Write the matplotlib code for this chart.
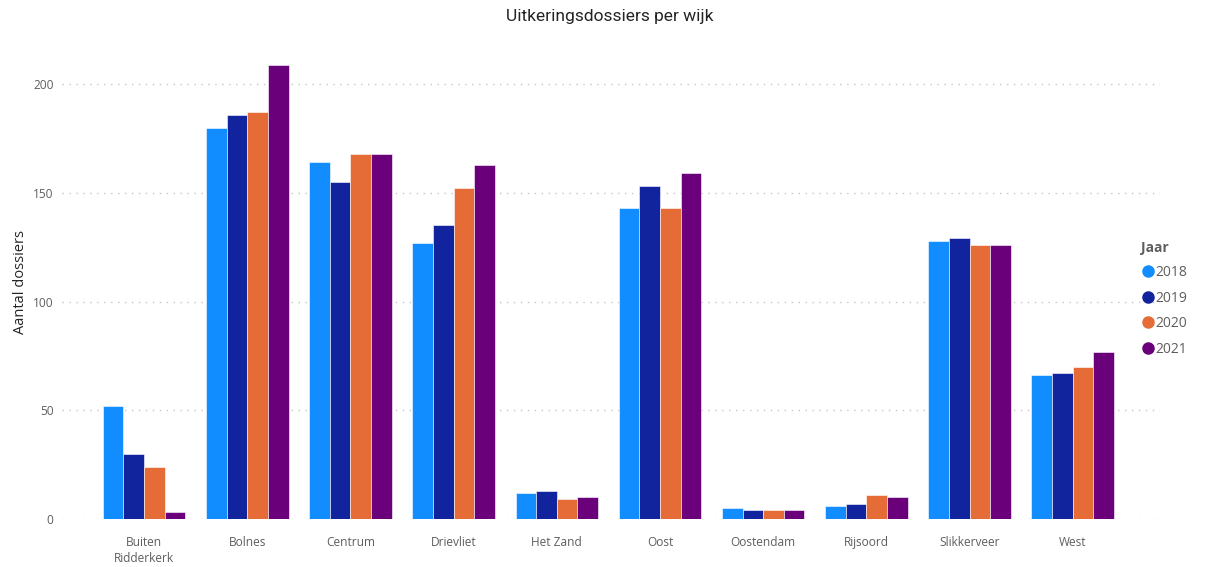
import numpy as np
import matplotlib.pyplot as plt
from matplotlib.lines import Line2D

# Data
wijken = ["Buiten\nRidderkerk", "Bolnes", "Centrum", "Drievliet", "Het Zand",
          "Oost", "Oostendam", "Rijsoord", "Slikkerveer", "West"]
jaren = ["2018", "2019", "2020", "2021"]
v2018 = [52, 180, 164, 127, 12, 143, 5, 6, 128, 66]
v2019 = [30, 186, 155, 135, 13, 153, 4, 7, 129, 67]
v2020 = [24, 187, 168, 152, 9, 143, 4, 11, 126, 70]
v2021 = [3, 209, 168, 163, 10, 159, 4, 10, 126, 77]
yticks = [0, 50, 100, 150, 200]

colors = ["#118DFF", "#12239E", "#E66C37", "#6B007B"]
series = [v2018, v2019, v2020, v2021]

plt.rcParams['font.family'] = ['Open Sans', 'DejaVu Sans']

fig = plt.figure(figsize=(12.07, 5.67), dpi=100)
ax = fig.add_axes([0.0514, 0.0847, 0.9096, 0.836])

x = np.arange(len(wijken))
w = 0.2
for i, vals in enumerate(series):
    ax.bar(x + (i - 1.5) * w, vals, width=w, color=colors[i],
           edgecolor='white', linewidth=0.4, zorder=3)

ax.set_xlim(-0.795, 9.845)
ax.set_ylim(0, 218)
ax.set_yticks(yticks)
ax.set_xticks(x)
ax.set_xticklabels(wijken, fontsize=8.6, color='#605E5C', linespacing=1.35)
ax.tick_params(axis='y', labelsize=8.6, labelcolor='#605E5C', length=0, pad=6)
ax.tick_params(axis='x', length=0, pad=12)
ax.grid(axis='y', linestyle=(0, (1, 4)), color='#C8C6C4', linewidth=1, zorder=0)
for s in ax.spines.values():
    s.set_visible(False)

ax.set_ylabel("Aantal dossiers", fontsize=10.5, color='#252423')
ax.yaxis.set_label_coords(-0.031, 0.5)

fig.suptitle("Uitkeringsdossiers per wijk", x=0.505, y=0.985, fontsize=12.5,
             color='#252423', family=['Roboto', 'DejaVu Sans'])

handles = [Line2D([], [], marker='o', linestyle='', markersize=8,
                  markerfacecolor=c, markeredgecolor=c) for c in colors]
leg = fig.legend(handles, jaren, title="Jaar", loc='upper left',
                 bbox_to_anchor=(0.941, 0.585), frameon=False, fontsize=10,
                 title_fontsize=10, alignment='left', handletextpad=0.0,
                 handlelength=1.0, labelspacing=0.75, borderaxespad=0)
leg.get_title().set_fontweight('bold')
leg.get_title().set_color('#605E5C')
for t in leg.get_texts():
    t.set_color('#605E5C')

fig.savefig("out.png", dpi=100)
